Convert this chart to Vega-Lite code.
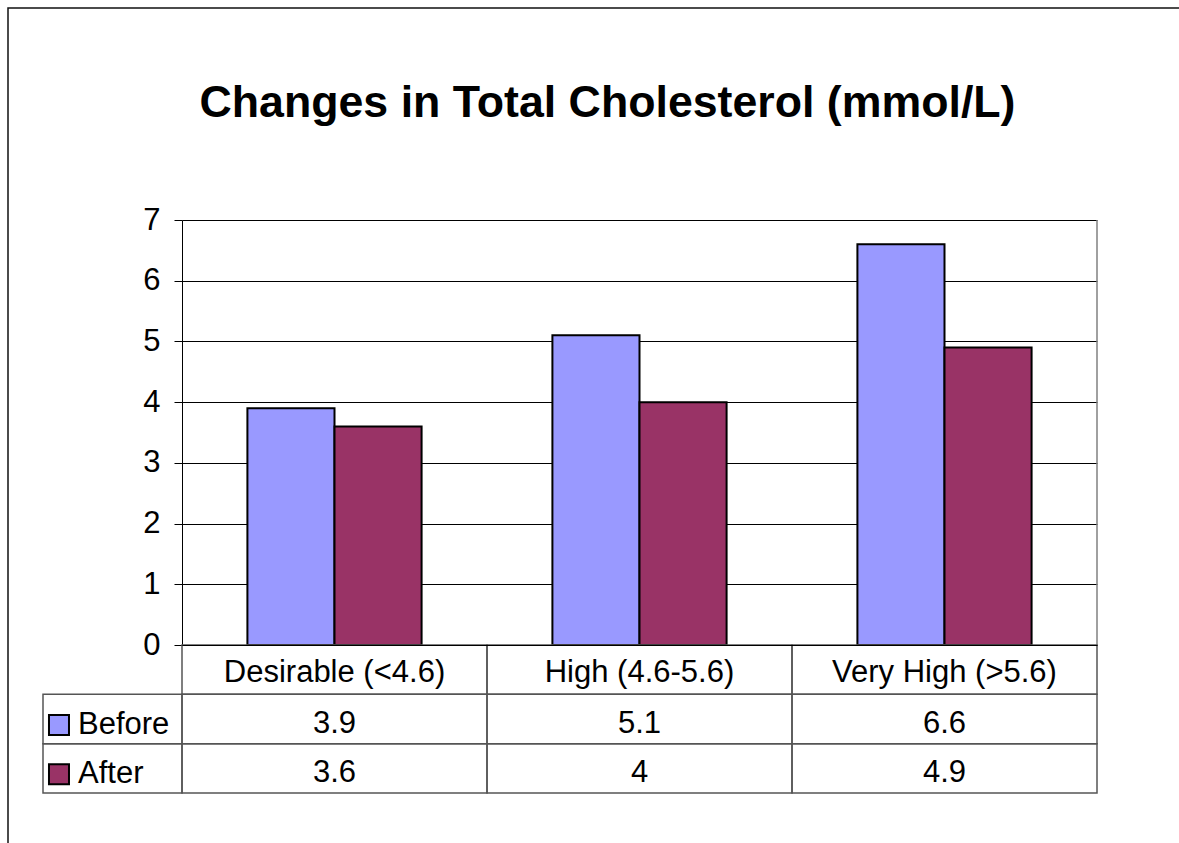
{
  "$schema": "https://vega.github.io/schema/vega-lite/v6.json",
  "usermeta": {"embedOptions": {"actions": false}},
  "autosize": {"type": "none"},
  "padding": {"left": 8, "top": 8, "right": -19, "bottom": -15},
  "width": 1190,
  "height": 850,
  "background": "white",
  "view": {"stroke": "#111", "strokeWidth": 1.5, "fill": "white"},
  "config": {"font": "Liberation Sans", "text": {"font": "Liberation Sans", "color": "#000"}},
  "title": {
    "text": "Changes in Total Cholesterol (mmol/L)",
    "font": "Liberation Sans",
    "fontSize": 44.7,
    "fontWeight": "bold",
    "color": "#000",
    "anchor": "middle",
    "frame": "group",
    "offset": 0,
    "dx": 4.5,
    "baseline": "alphabetic",
    "dy": 154
  },
  "data": {
    "values": [
      {"category": "Desirable (<4.6)", "series": "Before", "value": 3.9},
      {"category": "Desirable (<4.6)", "series": "After", "value": 3.6},
      {"category": "High (4.6-5.6)", "series": "Before", "value": 5.1},
      {"category": "High (4.6-5.6)", "series": "After", "value": 4},
      {"category": "Very High (>5.6)", "series": "Before", "value": 6.6},
      {"category": "Very High (>5.6)", "series": "After", "value": 4.9}
    ]
  },
  "resolve": {"scale": {"x": "independent", "y": "independent"}},
  "layer": [
    {
      "layer": [
        {
          "mark": {"type": "bar", "stroke": "#000", "strokeWidth": 2},
          "encoding": {
            "x": {
              "field": "category", "type": "nominal",
              "scale": {"domain": ["Desirable (<4.6)", "High (4.6-5.6)", "Very High (>5.6)"], "range": [174, 1089], "paddingInner": 0, "paddingOuter": 0},
              "axis": {"orient": "bottom", "offset": -213, "domain": true, "domainColor": "#000", "domainWidth": 1, "labels": false, "ticks": false, "grid": false, "title": null, "zindex": 1}
            },
            "xOffset": {
              "field": "series", "type": "nominal",
              "scale": {"domain": ["Before", "After"], "paddingInner": 0, "paddingOuter": 0.751}
            },
            "y": {
              "field": "value", "type": "quantitative",
              "scale": {"domain": [0, 7], "range": [637, 212], "nice": false, "zero": true},
              "axis": {
                "values": [0, 1, 2, 3, 4, 5, 6, 7], "format": "d", "title": null,
                "grid": true, "gridColor": "#000", "gridWidth": 1, "gridOpacity": 1,
                "domain": true, "domainColor": "#000", "domainWidth": 1,
                "ticks": true, "tickColor": "#000", "tickSize": 8, "tickWidth": 1,
                "labelFont": "Liberation Sans", "labelFontSize": 31, "labelColor": "#000", "labelPadding": 14,
                "offset": -174
              }
            },
            "color": {
              "field": "series", "type": "nominal",
              "scale": {"domain": ["Before", "After"], "range": ["#9999FF", "#993366"]},
              "legend": null
            }
          }
        },
        {
          "transform": [{"filter": "datum.category === 'Very High (>5.6)' && datum.series === 'Before'"}],
          "mark": {"type": "rule", "color": "#808080", "strokeWidth": 1.5},
          "encoding": {
            "x": {"field": "category", "type": "nominal", "bandPosition": 1},
            "y": {"datum": 0, "type": "quantitative"},
            "y2": {"datum": 7}
          }
        }
      ]
    },
    {
      "layer": [
        {
          "mark": {"type": "rect", "fill": "transparent", "stroke": "#555", "strokeWidth": 1.5},
          "encoding": {
            "x": {
              "field": "category", "type": "nominal",
              "scale": {"domain": ["Desirable (<4.6)", "High (4.6-5.6)", "Very High (>5.6)"], "range": [174, 1089], "paddingInner": 0, "paddingOuter": 0},
              "axis": null
            },
            "y": {
              "field": "series", "type": "nominal",
              "scale": {"domain": ["header", "Before", "After"], "range": [637, 785], "paddingInner": 0, "paddingOuter": 0},
              "axis": null
            }
          }
        },
        {
          "mark": {"type": "text", "fontSize": 31, "color": "#000", "baseline": "middle"},
          "encoding": {
            "x": {"field": "category", "type": "nominal"},
            "y": {"field": "series", "type": "nominal", "bandPosition": 0.6},
            "text": {"field": "value", "type": "nominal"}
          }
        },
        {
          "transform": [{"filter": "datum.series === 'Before'"}],
          "mark": {"type": "rect", "fill": "transparent", "stroke": "#555", "strokeWidth": 1.5},
          "encoding": {
            "x": {"field": "category", "type": "nominal"},
            "y": {"datum": "header", "type": "nominal"}
          }
        },
        {
          "transform": [{"filter": "datum.series === 'Before'"}],
          "mark": {"type": "text", "fontSize": 31, "color": "#000", "baseline": "middle"},
          "encoding": {
            "x": {"field": "category", "type": "nominal"},
            "y": {"datum": "header", "type": "nominal", "bandPosition": 0.56},
            "text": {"field": "category", "type": "nominal"}
          }
        }
      ]
    },
    {
      "transform": [{"filter": "datum.category === 'Desirable (<4.6)'"}],
      "layer": [
        {
          "mark": {"type": "rect", "fill": "transparent", "stroke": "#555", "strokeWidth": 1.5},
          "encoding": {
            "x": {
              "datum": "label", "type": "nominal",
              "scale": {"domain": ["label"], "range": [35, 174], "paddingInner": 0, "paddingOuter": 0},
              "axis": null
            },
            "y": {
              "field": "series", "type": "nominal",
              "scale": {"domain": ["header", "Before", "After"], "range": [637, 785], "paddingInner": 0, "paddingOuter": 0},
              "axis": null
            }
          }
        },
        {
          "mark": {"type": "point", "shape": "square", "size": 400, "filled": true, "opacity": 1, "stroke": "#000", "strokeWidth": 2},
          "encoding": {
            "x": {"datum": "label", "type": "nominal", "bandPosition": 0.115},
            "y": {"field": "series", "type": "nominal", "bandPosition": 0.62},
            "color": {"field": "series", "type": "nominal", "legend": null}
          }
        },
        {
          "mark": {"type": "text", "fontSize": 31, "color": "#000", "align": "left", "baseline": "middle"},
          "encoding": {
            "x": {"datum": "label", "type": "nominal", "bandPosition": 0.252},
            "y": {"field": "series", "type": "nominal", "bandPosition": 0.62},
            "text": {"field": "series", "type": "nominal"}
          }
        }
      ]
    }
  ]
}
